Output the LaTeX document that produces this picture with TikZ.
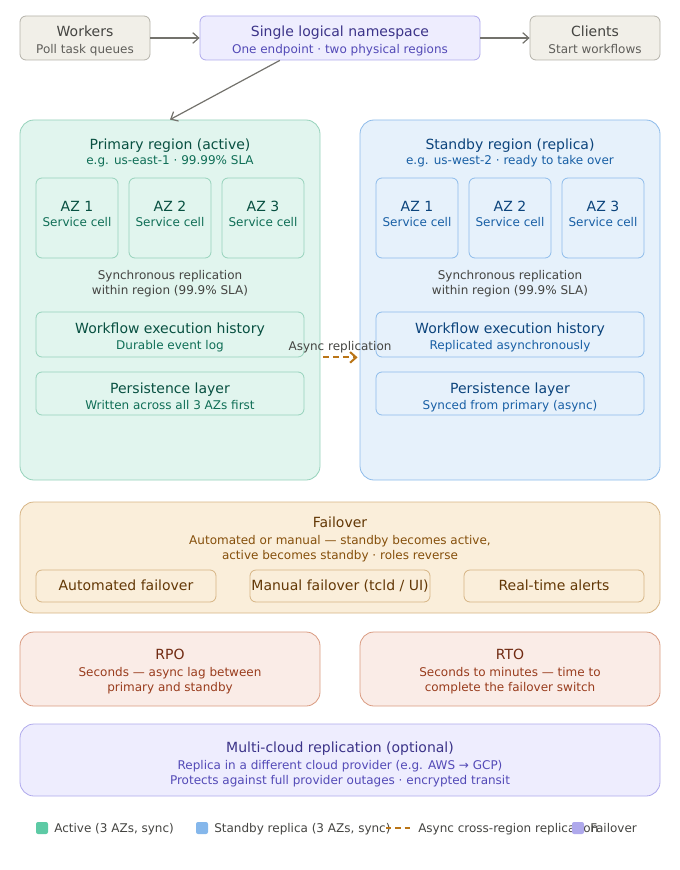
\documentclass[tikz,border=0pt]{standalone}
\usepackage{fontspec}
\setmainfont{DejaVu Sans}
\usetikzlibrary{arrows.meta,fit,calc}
\definecolor{grayF}{HTML}{F1EFE8}\definecolor{grayS}{HTML}{B4B2A9}
\definecolor{grayT}{HTML}{444441}\definecolor{grayU}{HTML}{5F5E5A}
\definecolor{purF}{HTML}{EEEDFE}\definecolor{purS}{HTML}{AFA9EC}
\definecolor{purT}{HTML}{3C3489}\definecolor{purU}{HTML}{534AB7}
\definecolor{tealF}{HTML}{E1F5EE}\definecolor{tealS}{HTML}{96D2BB}
\definecolor{tealT}{HTML}{085041}\definecolor{tealU}{HTML}{0F6E56}
\definecolor{bluF}{HTML}{E6F1FB}\definecolor{bluS}{HTML}{8DBBEA}
\definecolor{bluT}{HTML}{0C447C}\definecolor{bluU}{HTML}{185FA5}
\definecolor{ambF}{HTML}{FAEEDA}\definecolor{ambS}{HTML}{D6B484}
\definecolor{ambT}{HTML}{633806}\definecolor{ambU}{HTML}{854F0B}
\definecolor{corF}{HTML}{FAECE7}\definecolor{corS}{HTML}{D99A80}
\definecolor{corT}{HTML}{712B13}\definecolor{corU}{HTML}{993C1D}
\definecolor{arrC}{HTML}{73726C}\definecolor{asyC}{HTML}{BA7517}
\definecolor{legG}{HTML}{5DCAA5}\definecolor{legB}{HTML}{85B7EB}\definecolor{legP}{HTML}{AFA9EC}
\begin{document}
\begin{tikzpicture}[x=0.75pt,y=-0.75pt,
  box/.style={draw, line width=0.6pt, rounded corners=4.5pt, inner sep=0pt},
  big/.style={box, rounded corners=10.5pt},
  gbox/.style={box, fill=grayF, draw=grayS},
  pbox/.style={box, fill=purF, draw=purS},
  tbox/.style={box, fill=tealF, draw=tealS},
  bbox/.style={box, fill=bluF, draw=bluS},
  abox/.style={box, fill=ambF, draw=ambS},
  cbox/.style={box, fill=corF, draw=corS},
  tt/.style={anchor=base, inner sep=0pt, font=\fontsize{10.5}{12}\selectfont},
  st/.style={anchor=base, inner sep=0pt, font=\fontsize{9}{11}\selectfont},
  lt/.style={anchor=base west, inner sep=0pt, font=\fontsize{9}{11}\selectfont, text=grayT},
  arr/.style={draw=arrC, line width=0.9pt, -{Straight Barb[length=4.5pt,width=8pt]}},
  sq/.style={inner sep=0pt, minimum size=9pt, rounded corners=1.5pt}]
\useasboundingbox (0,0) rectangle (680,870);

% top row
\node[gbox, fit={(20,16) (150,60)}] (wk) {};
\node[tt, text=grayT] (wkt) at (85,37) {Workers};
\node[st, text=grayU] (wks) at (85,54) {Poll task queues};
\node[pbox, fit={(200,16) (480,60)}] (ns) {};
\node[tt, text=purT] (nst) at (340,37) {Single logical namespace};
\node[st, text=purU] (nss) at (340,54) {One endpoint · two physical regions};
\node[gbox, fit={(530,16) (660,60)}] (cl) {};
\node[tt, text=grayT] (clt) at (595,37) {Clients};
\node[st, text=grayU] (cls) at (595,54) {Start workflows};

% regions
\node[tbox, big, fit={(20,120) (320,480)}] (pri) {};
\node[bbox, big, fit={(360,120) (660,480)}] (stb) {};

\draw[arr] (wk.east) -- (ns.west);
\draw[arr] (ns.east) -- (cl.west);
\draw[arr] ($(ns.south west)!0.2857!(ns.south east)$) -- (pri.north);

% primary
\node[tt, text=tealT] (prt) at (170,150) {Primary region (active)};
\node[st, text=tealU] (prs) at (170,165) {e.g. us-east-1 · 99.99\% SLA};
\foreach \n/\x in {1/36,2/129,3/222}{
  \node[tbox, fit={(\x,178) (\x+82,258)}] (paz\n) {};
  \node[tt, text=tealT] (paz\n t) at (\x+41,211) {AZ \n};
  \node[st, text=tealU] (paz\n s) at (\x+41,226) {Service cell};
}
\node[st, text=grayT] (psy1) at (170,279) {Synchronous replication};
\node[st, text=grayT] (psy2) at (170,294) {within region (99.9\% SLA)};
\node[tbox, fit={(36,312) (304,357)}] (pwf) {};
\node[tt, text=tealT] (pwft) at (170,333) {Workflow execution history};
\node[st, text=tealU] (pwfs) at (170,349) {Durable event log};
\node[tbox, fit={(36,372) (304,415)}] (pps) {};
\node[tt, text=tealT] (ppst) at (170,393) {Persistence layer};
\node[st, text=tealU] (ppss) at (170,409) {Written across all 3 AZs first};

% standby
\node[tt, text=bluT] (sbt) at (510,150) {Standby region (replica)};
\node[st, text=bluU] (sbs) at (510,165) {e.g. us-west-2 · ready to take over};
\foreach \n/\x in {1/376,2/469,3/562}{
  \node[bbox, fit={(\x,178) (\x+82,258)}] (saz\n) {};
  \node[tt, text=bluT] (saz\n t) at (\x+41,211) {AZ \n};
  \node[st, text=bluU] (saz\n s) at (\x+41,226) {Service cell};
}
\node[st, text=grayT] (ssy1) at (510,279) {Synchronous replication};
\node[st, text=grayT] (ssy2) at (510,294) {within region (99.9\% SLA)};
\node[bbox, fit={(376,312) (644,357)}] (swf) {};
\node[tt, text=bluT] (swft) at (510,333) {Workflow execution history};
\node[st, text=bluU] (swfs) at (510,349) {Replicated asynchronously};
\node[bbox, fit={(376,372) (644,415)}] (sps) {};
\node[tt, text=bluT] (spst) at (510,393) {Persistence layer};
\node[st, text=bluU] (spss) at (510,409) {Synced from primary (async)};

% async arrow
\draw[draw=asyC, line width=1.5pt, dash pattern=on 4.5pt off 3pt, -{Straight Barb[length=4.5pt,width=8pt]}, shorten <=2pt, shorten >=1.5pt]
  (pri.east |- pwf.south) -- (stb.west |- swf.south);
\node[st, text=grayT] (asl) at (340,350) {Async replication};

% failover
\node[abox, big, fit={(20,502) (660,613)}] (fo) {};
\node[tt, text=ambT] (fot) at (340,527) {Failover};
\node[st, text=ambU] (fos1) at (340,544) {Automated or manual — standby becomes active,};
\node[st, text=ambU] (fos2) at (340,559) {active becomes standby · roles reverse};
\node[abox, fit={(36,570) (216,602)}] (fa) {};
\node[tt, text=ambT] (fat) at (126,590) {Automated failover};
\node[abox, fit={(250,570) (430,602)}] (fm) {};
\node[tt, text=ambT] (fmt) at (340,590) {Manual failover (tcld / UI)};
\node[abox, fit={(464,570) (644,602)}] (fr) {};
\node[tt, text=ambT] (frt) at (554,590) {Real-time alerts};

% RPO / RTO
\node[cbox, big, fit={(20,632) (320,706)}] (rpo) {};
\node[tt, text=corT] (rpot) at (170,659) {RPO};
\node[st, text=corU] (rpos1) at (170,676) {Seconds — async lag between};
\node[st, text=corU] (rpos2) at (170,691) {primary and standby};
\node[cbox, big, fit={(360,632) (660,706)}] (rto) {};
\node[tt, text=corT] (rtot) at (510,659) {RTO};
\node[st, text=corU] (rtos1) at (510,676) {Seconds to minutes — time to};
\node[st, text=corU] (rtos2) at (510,691) {complete the failover switch};

% multi-cloud
\node[pbox, big, fit={(20,724) (660,796)}] (mc) {};
\node[tt, text=purT] (mct) at (340,752) {Multi-cloud replication (optional)};
\node[st, text=purU] (mcs1) at (340,769) {Replica in a different cloud provider (e.g. AWS → GCP)};
\node[st, text=purU] (mcs2) at (340,784) {Protects against full provider outages · encrypted transit};

% legend
\node[sq, fill=legG] (lg1) at (42,828) {};
\node[lt] (lg1t) at (54,832) {Active (3 AZs, sync)};
\node[sq, fill=legB] (lg2) at (202,828) {};
\node[lt] (lg2t) at (214,832) {Standby replica (3 AZs, sync)};
\coordinate (lg3a) at (386,828);
\coordinate (lg3b) at (412,828);
\draw[draw=asyC, line width=1.5pt, dash pattern=on 4pt off 3pt] (lg3a) -- (lg3b);
\node[lt] (lg3t) at (418,832) {Async cross-region replication};
\node[sq, fill=legP] (lg4) at (578,828) {};
\node[lt] (lg4t) at (590,832) {Failover};
\end{tikzpicture}
\end{document}
